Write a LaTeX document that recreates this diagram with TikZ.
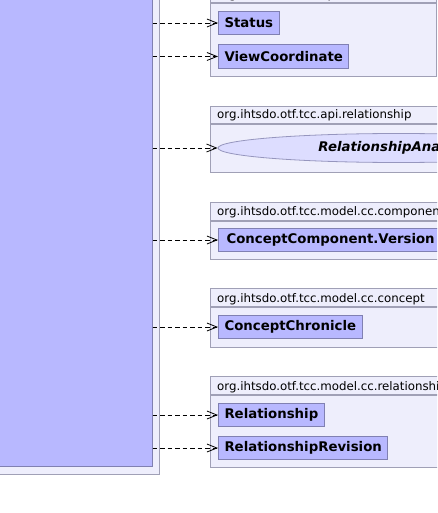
\documentclass[tikz,border=0pt]{standalone}
\usepackage{fontspec}
\setmainfont{DejaVu Sans}
\usetikzlibrary{arrows.meta,shapes.geometric}
\definecolor{pkgfill}{RGB}{238,238,252}
\definecolor{pkgline}{RGB}{160,160,182}
\definecolor{clsfill}{RGB}{184,184,255}
\definecolor{clsline}{RGB}{128,128,178}
\definecolor{ellfill}{RGB}{221,221,255}
\definecolor{ellline}{RGB}{150,150,190}
\tikzset{
  pkgbox/.style={draw=pkgline, fill=pkgfill, line width=1pt},
  pkgtext/.style={anchor=base west, inner sep=0pt, font=\fontsize{11.8}{14}\selectfont},
  clsbox/.style={draw=clsline, fill=clsfill, line width=1pt, anchor=west, inner xsep=6pt, inner ysep=0pt,
    minimum height=23.5pt, font=\fontsize{13.3}{16}\selectfont\bfseries},
  dep/.style={draw=black, line width=0.8pt, dash pattern=on 4.5pt off 3pt,
    -{Straight Barb[length=10pt,width=8pt,line width=0.8pt]}},
}
\begin{document}
\begin{tikzpicture}[x=1pt,y=-1pt]
\useasboundingbox (0,0) rectangle (437,513);
\clip (0,0) rectangle (437,513);
% source package and class
\node[pkgbox, anchor=south east, minimum width=180pt, minimum height=500pt, inner sep=0pt] (srcpkg) at (160,475) {};
\node[draw=clsline, fill=clsfill, line width=1pt, anchor=south east, minimum width=170pt, minimum height=490pt, inner sep=0pt] (src) at (152.7,467) {};
% package 1: coordinate
\node[pkgbox, anchor=south west, minimum width=225.5pt, minimum height=17.6pt, inner sep=0pt] (p1h) at (210,3.3) {};
\node[pkgbox, anchor=north west, minimum width=225.5pt, minimum height=72.7pt, inner sep=0pt] (p1) at (210,3.3) {};
\node[pkgtext] (p1t) at (217,-1) {org.ihtsdo.otf.tcc.api.coordinate};
\node[clsbox] (status) at (218,23) {Status};
\node[clsbox] (viewc) at (218,56.5) {ViewCoordinate};
% package 2: api.relationship
\node[pkgbox, anchor=south west, minimum width=260pt, minimum height=17.6pt, inner sep=0pt] (p2h) at (210,124.3) {};
\node[pkgbox, anchor=north west, minimum width=260pt, minimum height=47.7pt, inner sep=0pt] (p2) at (210,124.3) {};
\node[pkgtext] (p2t) at (217,118.5) {org.ihtsdo.otf.tcc.api.relationship};
\node[ellipse, draw=ellline, fill=ellfill, line width=0.8pt, minimum width=361pt, minimum height=29pt, inner sep=0pt,
  font=\fontsize{13.3}{16}\selectfont\bfseries\itshape] (ana) at (398.5,148) {RelationshipAnalogBI};
% package 3: model.cc.component
\node[pkgbox, anchor=south west, minimum width=260pt, minimum height=18pt, inner sep=0pt] (p3h) at (210,220.7) {};
\node[pkgbox, anchor=north west, minimum width=260pt, minimum height=38.3pt, inner sep=0pt] (p3) at (210,220.7) {};
\node[pkgtext] (p3t) at (217,215.5) {org.ihtsdo.otf.tcc.model.cc.component};
\node[clsbox, inner xsep=8pt] (ccv) at (218,240) {ConceptComponent.Version};
% package 4: model.cc.concept
\node[pkgbox, anchor=south west, minimum width=260pt, minimum height=18pt, inner sep=0pt] (p4h) at (210,307.3) {};
\node[pkgbox, anchor=north west, minimum width=260pt, minimum height=39.4pt, inner sep=0pt] (p4) at (210,307.3) {};
\node[pkgtext] (p4t) at (217,302) {org.ihtsdo.otf.tcc.model.cc.concept};
\node[clsbox] (cchr) at (218,327) {ConceptChronicle};
% package 5: model.cc.relationship
\node[pkgbox, anchor=south west, minimum width=260pt, minimum height=18pt, inner sep=0pt] (p5h) at (210,395.3) {};
\node[pkgbox, anchor=north west, minimum width=260pt, minimum height=71.7pt, inner sep=0pt] (p5) at (210,395.3) {};
\node[pkgtext] (p5t) at (217,390) {org.ihtsdo.otf.tcc.model.cc.relationship};
\node[clsbox] (rel) at (218,415) {Relationship};
\node[clsbox] (relrev) at (218,448) {RelationshipRevision};
% dependencies
\draw[dep] (src.east |- status.west) -- (status.west);
\draw[dep] (src.east |- viewc.west) -- (viewc.west);
\draw[dep] (src.east |- ana.west) -- (ana.west);
\draw[dep] (src.east |- ccv.west) -- (ccv.west);
\draw[dep] (src.east |- cchr.west) -- (cchr.west);
\draw[dep] (src.east |- rel.west) -- (rel.west);
\draw[dep] (src.east |- relrev.west) -- (relrev.west);
\end{tikzpicture}
\end{document}
